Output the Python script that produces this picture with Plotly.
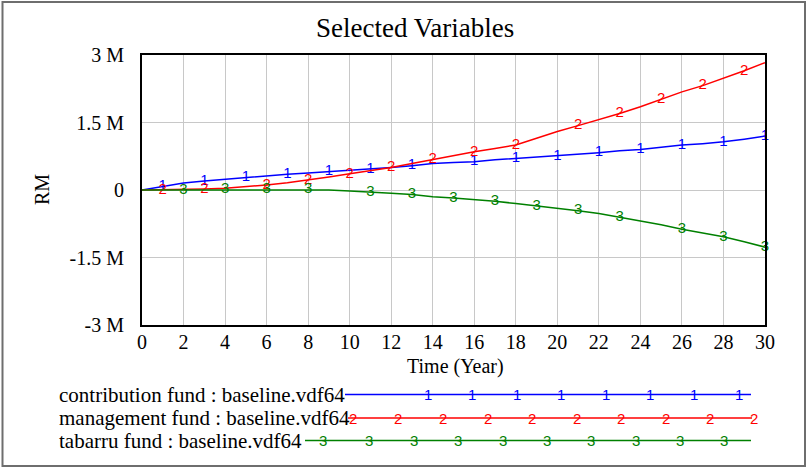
import plotly.graph_objects as go

years = list(range(0, 31))
contribution = [0, 0.08, 0.155, 0.20, 0.24, 0.28, 0.31, 0.35, 0.38, 0.41, 0.43, 0.47, 0.50, 0.54, 0.59, 0.61,
                0.63, 0.67, 0.70, 0.73, 0.76, 0.80, 0.83, 0.87, 0.90, 0.95, 1.00, 1.03, 1.07, 1.13, 1.20]
management = [0, 0.005, 0.015, 0.025, 0.04, 0.07, 0.11, 0.16, 0.22, 0.29, 0.36, 0.43, 0.50, 0.59, 0.68, 0.76,
              0.85, 0.92, 1.00, 1.15, 1.30, 1.43, 1.56, 1.70, 1.85, 2.01, 2.18, 2.32, 2.48, 2.65, 2.83]
tabarru = [0, 0.0, 0.0, 0.005, 0.01, 0.01, 0.01, 0.01, 0.01, 0.0, -0.02, -0.04, -0.07, -0.10, -0.15, -0.18,
           -0.21, -0.25, -0.30, -0.35, -0.41, -0.46, -0.52, -0.60, -0.68, -0.77, -0.87, -0.95, -1.04, -1.15, -1.27]

label_years_1 = [1, 3, 5, 7, 9, 11, 13, 16, 18, 20, 22, 24, 26, 28, 30]
label_years_2 = [1, 3, 6, 8, 10, 12, 14, 16, 18, 21, 23, 25, 27, 29]
label_years_3 = [2, 4, 6, 8, 11, 13, 15, 17, 19, 21, 23, 26, 28, 30]

series_names = ["contribution fund : baseline.vdf64",
                "management fund : baseline.vdf64",
                "tabarru fund : baseline.vdf64"]
series_colors = ["#0000ff", "#ff0000", "#008000"]
series_tags = ["1", "2", "3"]

y_tickvals = [-3e6, -1.5e6, 0, 1.5e6, 3e6]
y_ticktext = ["-3 M", "-1.5 M", "0", "1.5 M", "3 M"]
x_tickvals = list(range(0, 31, 2))

W, H = 806, 468
L, R, T, B = 142, 765, 55, 325
SERIF = "Liberation Serif, Times New Roman, serif"
SANS = "Liberation Sans, Arial, sans-serif"


def px2x(px):
    return (px - L) / (R - L)


def py2y(py):
    return (B - py) / (B - T)


fig = go.Figure()
all_vals = [contribution, management, tabarru]
all_labels = [label_years_1, label_years_2, label_years_3]
for vals, lab, col, tag, name in zip(all_vals, all_labels, series_colors, series_tags, series_names):
    fig.add_trace(go.Scatter(
        x=years, y=[v * 1e6 for v in vals],
        mode="lines+text",
        text=[tag if yr in lab else "" for yr in years],
        textposition="middle center",
        textfont=dict(family=SANS, size=15, color=col),
        line=dict(color=col, width=1.5),
        cliponaxis=False,
        name=name, showlegend=False,
    ))

shapes = []
annotations = []

# outer frame
shapes.append(dict(type="rect", xref="paper", yref="paper",
                   x0=px2x(2.5), x1=px2x(805), y0=py2y(466), y1=py2y(2),
                   line=dict(color="#6e6e6e", width=2), layer="below"))

# title and axis titles
annotations.append(dict(text="Selected Variables", xref="paper", yref="paper",
                        x=px2x(415), y=py2y(28), xanchor="center", yanchor="middle",
                        showarrow=False,
                        font=dict(family=SERIF, size=27, color="black")))
annotations.append(dict(text="RM", xref="paper", yref="paper",
                        x=px2x(42), y=py2y(190), xanchor="center", yanchor="middle",
                        showarrow=False, textangle=-90,
                        font=dict(family=SERIF, size=20, color="black")))
annotations.append(dict(text="Time (Year)", xref="paper", yref="paper",
                        x=px2x(455), y=py2y(366), xanchor="center", yanchor="middle",
                        showarrow=False,
                        font=dict(family=SERIF, size=20, color="black")))

# custom legend
legend_rows = [
    dict(y=394.5, text_x=57, line_x0=345, line_x1=751,
         tags=[428, 472, 517, 561, 606, 650, 694, 739]),
    dict(y=418, text_x=57, line_x0=348, line_x1=752,
         tags=[353, 398, 443, 488, 532, 577, 621, 666, 710, 754]),
    dict(y=440.5, text_x=57, line_x0=305, line_x1=751,
         tags=[323, 369, 414, 458, 503, 547, 591, 636, 680, 724]),
]
for row, col, tag, name in zip(legend_rows, series_colors, series_tags, series_names):
    annotations.append(dict(text=name, xref="paper", yref="paper",
                            x=px2x(row["text_x"]), y=py2y(row["y"]),
                            xanchor="left", yanchor="middle", showarrow=False,
                            font=dict(family=SERIF, size=21, color="black")))
    shapes.append(dict(type="line", xref="paper", yref="paper",
                       x0=px2x(row["line_x0"]), x1=px2x(row["line_x1"]),
                       y0=py2y(row["y"]), y1=py2y(row["y"]),
                       line=dict(color=col, width=1.5)))
    for tx in row["tags"]:
        annotations.append(dict(text=tag, xref="paper", yref="paper",
                                x=px2x(tx), y=py2y(row["y"]),
                                xanchor="center", yanchor="middle", showarrow=False,
                                font=dict(family=SANS, size=15, color=col)))

fig.update_layout(
    width=W, height=H,
    margin=dict(l=L, r=W - R, t=T, b=H - B, pad=0),
    paper_bgcolor="white", plot_bgcolor="white",
    shapes=shapes, annotations=annotations,
    xaxis=dict(range=[0, 30], tickvals=x_tickvals, showgrid=True,
               gridcolor="#c8c8c8", gridwidth=1, zeroline=False,
               showline=True, linecolor="black", linewidth=2, mirror=True,
               ticks="", ticklabelstandoff=-2,
               tickfont=dict(family=SERIF, size=20, color="black")),
    yaxis=dict(range=[-3e6, 3e6], tickvals=y_tickvals, ticktext=y_ticktext,
               showgrid=True, gridcolor="#c8c8c8", gridwidth=1,
               zeroline=True, zerolinecolor="#c8c8c8", zerolinewidth=1,
               showline=True, linecolor="black", linewidth=2, mirror=True,
               ticks="", ticklabelstandoff=12,
               tickfont=dict(family=SERIF, size=20, color="black")),
)

fig.write_html("out.html", config={"displayModeBar": False},
               post_script="document.body.style.margin='0';document.body.style.overflow='hidden';")
